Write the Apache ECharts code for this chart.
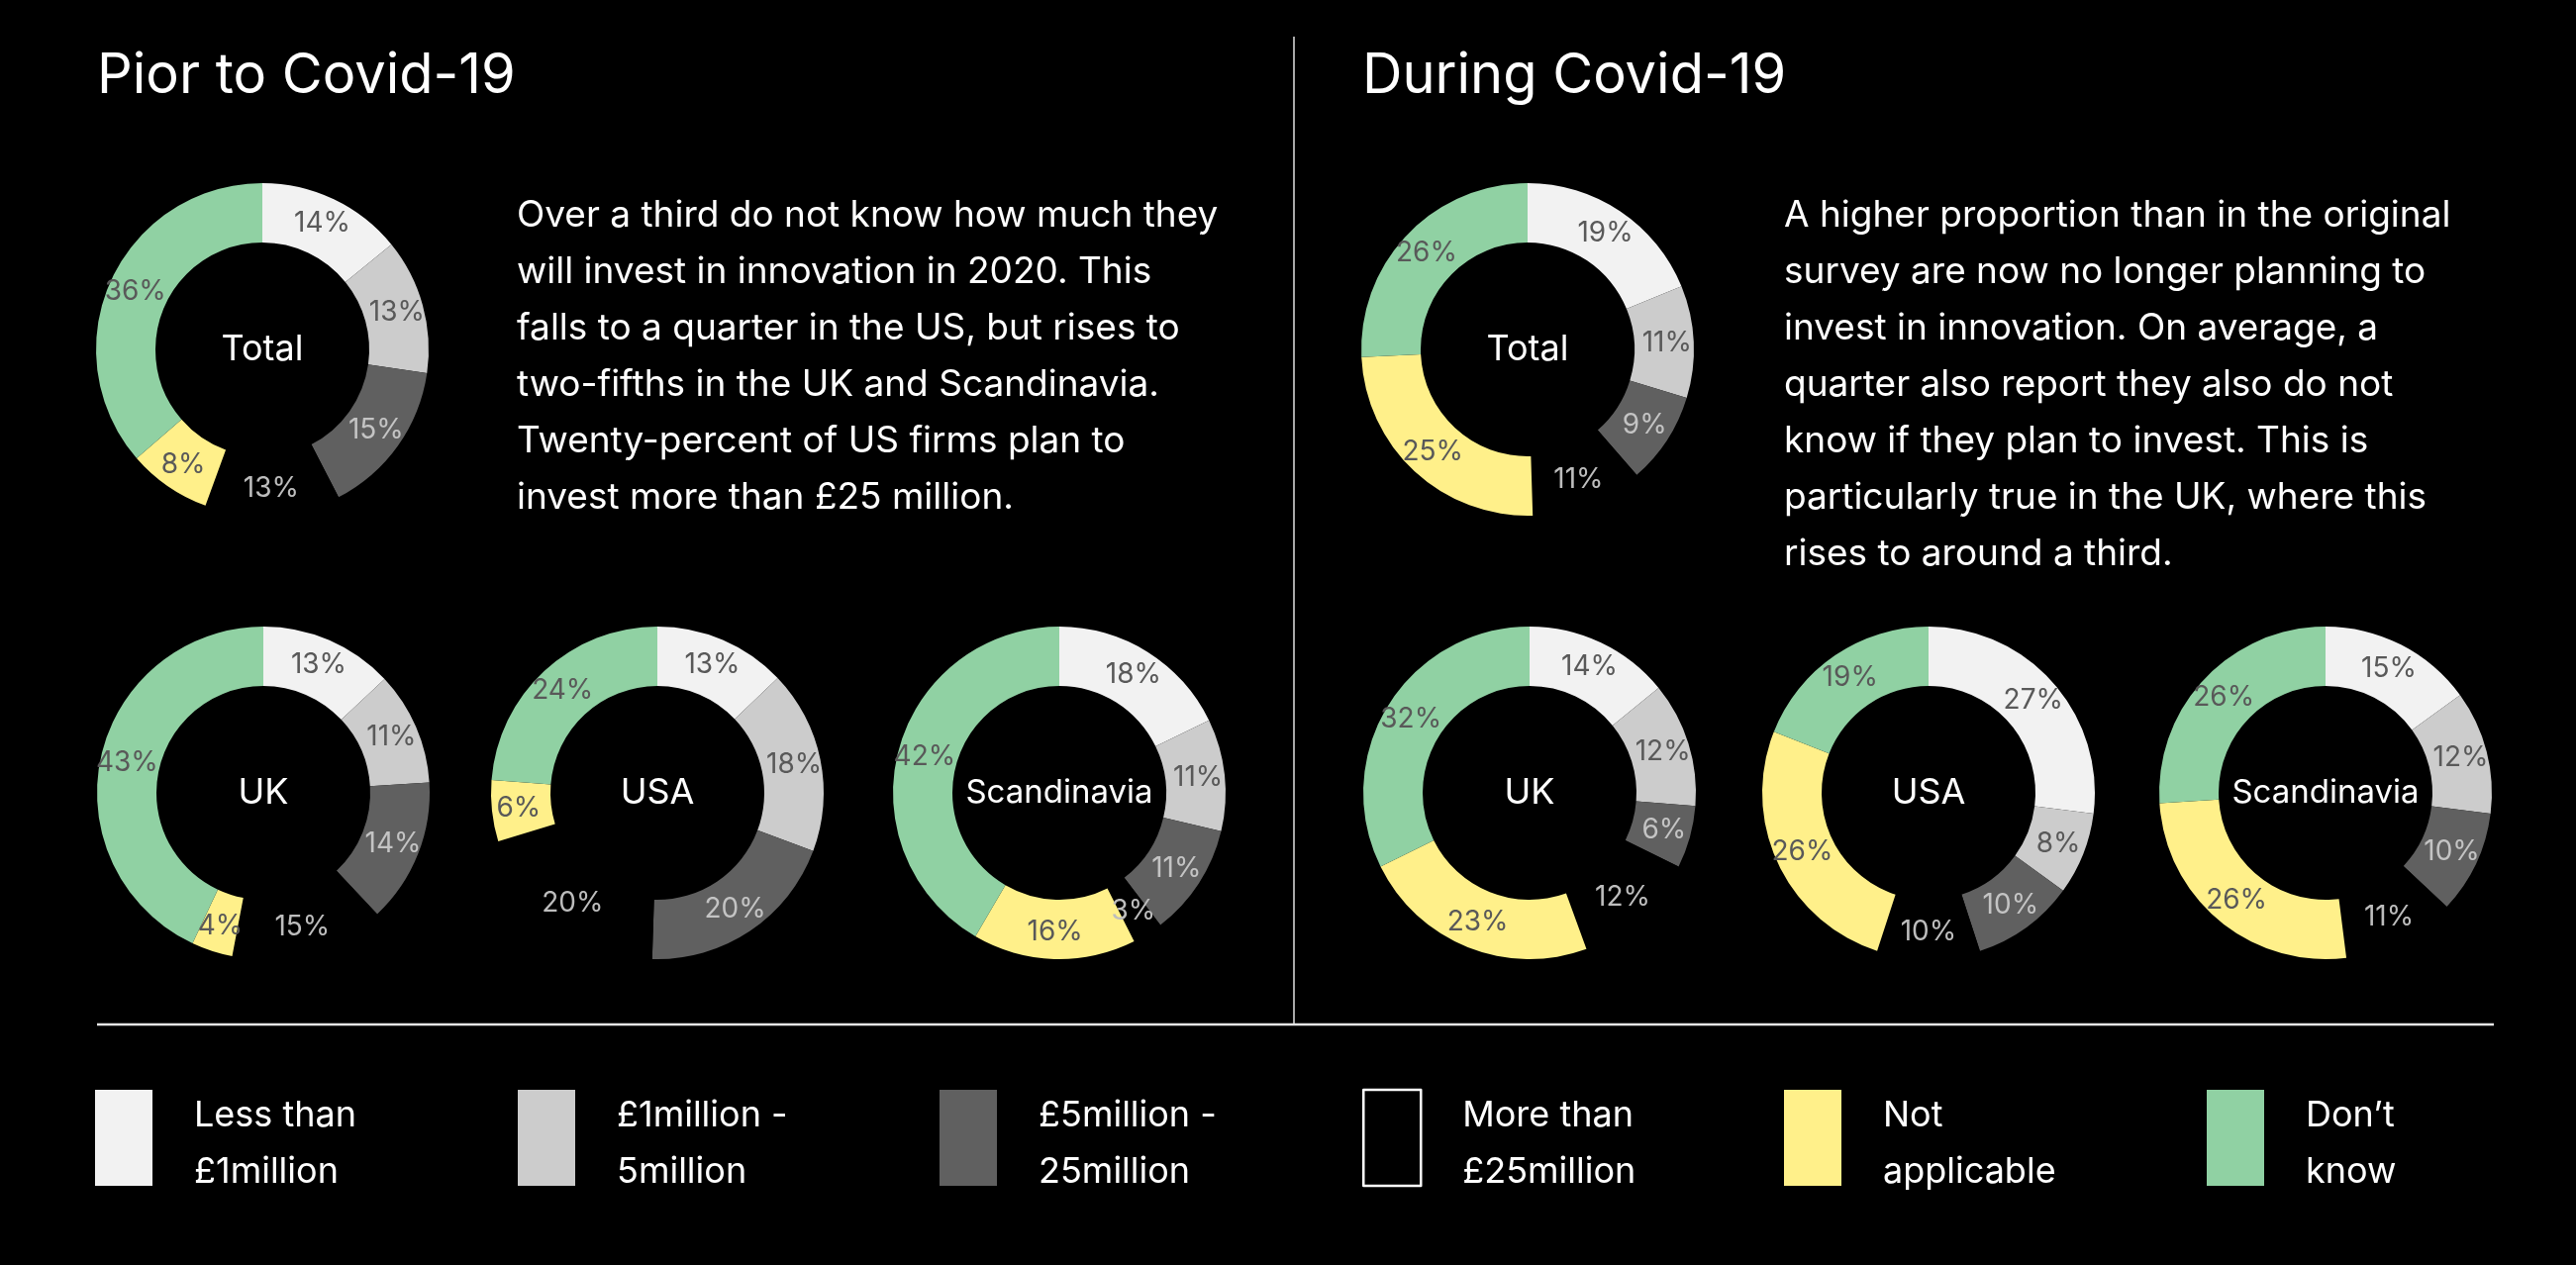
<!DOCTYPE html>
<html>
<head>
<meta charset="utf-8">
<script src="https://cdn.jsdelivr.net/npm/echarts@6/dist/echarts.min.js"></script>
<style>
html,body{margin:0;padding:0;background:#000;}
#c{width:2602px;height:1278px;}
</style>
</head>
<body>
<div id="c"></div>
<script>
// ---- DATA ----
const categories = ['Less than\n£1million', '£1million -\n5million', '£5million -\n25million', 'More than\n£25million', 'Not\napplicable', 'Don’t\nknow'];
const sliceColors = ['#f2f2f2', '#cccccc', '#606060', '#000000', '#fff08a', '#90d1a3'];
const labelColors = ['#595959', '#595959', '#c4c4c4', '#bdbdbd', '#595959', '#595959'];

const priorTotal = [14, 13, 15, 13, 8, 36];
const priorUK = [13, 11, 14, 15, 4, 43];
const priorUSA = [13, 18, 20, 20, 6, 24];
const priorScandinavia = [18, 11, 11, 3, 16, 42];

const duringTotal = [19, 11, 9, 11, 25, 26];
const duringUK = [14, 12, 6, 12, 23, 32];
const duringUSA = [27, 8, 10, 10, 26, 19];
const duringScandinavia = [15, 12, 10, 11, 26, 26];

const panelTitles = ['Pior to Covid-19', 'During Covid-19'];
const regionNames = ['Total', 'UK', 'USA', 'Scandinavia'];
const priorText = 'Over a third do not know how much they\nwill invest in innovation in 2020. This\nfalls to a quarter in the US, but rises to\ntwo-fifths in the UK and Scandinavia.\nTwenty-percent of US firms plan to\ninvest more than £25 million.';
const duringText = 'A higher proportion than in the original\nsurvey are now no longer planning to\ninvest in innovation. On average, a\nquarter also report they also do not\nknow if they plan to invest. This is\nparticularly true in the UK, where this\nrises to around a third.';

// ---- LAYOUT ----
const FONT = 'Inter, "Liberation Sans", Arial, sans-serif';
const R = [108, 168];
const pies = [
  {vals: priorTotal, name: regionNames[0], c: [265, 353], fs: 36},
  {vals: priorUK, name: regionNames[1], c: [266, 801], fs: 36},
  {vals: priorUSA, name: regionNames[2], c: [664, 801], fs: 36},
  {vals: priorScandinavia, name: regionNames[3], c: [1070, 801], fs: 33},
  {vals: duringTotal, name: regionNames[0], c: [1543, 353], fs: 36},
  {vals: duringUK, name: regionNames[1], c: [1545, 801], fs: 36},
  {vals: duringUSA, name: regionNames[2], c: [1948, 801], fs: 36},
  {vals: duringScandinavia, name: regionNames[3], c: [2349, 801], fs: 33}
];

const series = pies.map(p => ({
  type: 'pie',
  silent: true,
  center: p.c,
  radius: R,
  startAngle: 90,
  clockwise: true,
  avoidLabelOverlap: false,
  label: {
    show: true,
    position: 'inside',
    formatter: '{c}%',
    fontFamily: FONT,
    fontSize: 28
  },
  labelLine: {show: false},
  emphasis: {disabled: true},
  itemStyle: {borderWidth: 0},
  data: p.vals.map((v, i) => ({
    name: categories[i],
    value: v,
    itemStyle: {color: sliceColors[i]},
    label: {color: labelColors[i]}
  }))
}));

const graphic = [];
// Panel titles
graphic.push({type: 'text', x: 98, y: 77, style: {text: panelTitles[0], fill: '#fff', font: '56px ' + FONT, verticalAlign: 'middle'}});
graphic.push({type: 'text', x: 1376, y: 77, style: {text: panelTitles[1], fill: '#fff', font: '56px ' + FONT, verticalAlign: 'middle'}});
// Body texts
graphic.push({type: 'text', left: 522, top: 189, style: {text: priorText, fill: '#fff', font: '37px ' + FONT, lineHeight: 57}});
graphic.push({type: 'text', left: 1802, top: 189, style: {text: duringText, fill: '#fff', font: '37px ' + FONT, lineHeight: 57}});
// Center labels
pies.forEach(p => {
  graphic.push({type: 'text', x: p.c[0], y: p.c[1], style: {text: p.name, fill: '#fff', font: p.fs + 'px ' + FONT, align: 'center', verticalAlign: 'middle'}});
});
// Divider lines
graphic.push({type: 'line', shape: {x1: 1307, y1: 37, x2: 1307, y2: 1034}, style: {stroke: '#e0e0e0', lineWidth: 1.5}});
graphic.push({type: 'line', shape: {x1: 98, y1: 1035, x2: 2519, y2: 1035}, style: {stroke: '#e6e6e6', lineWidth: 2.5}});

// Legends: one per category
const legendLeft = [96, 523, 949, 1376, 1802, 2229];
const legend = categories.map((c, i) => ({
  data: [{
    name: c,
    icon: 'rect',
    itemStyle: i === 3 ? {color: '#000', borderColor: '#ffffff', borderWidth: 2.5} : {color: sliceColors[i], borderWidth: 0}
  }],
  left: legendLeft[i],
  top: 1092,
  padding: 0,
  itemWidth: 58,
  itemHeight: 97,
  selectedMode: false,
  formatter: name => '{s| }\n' + name.split('\n').map(l => '{t|' + l + '}').join('\n'),
  textStyle: {
    color: '#fff', fontFamily: FONT, fontSize: 36, padding: [0, 0, 0, 37],
    rich: {
      s: {fontSize: 1, lineHeight: 12},
      t: {color: '#fff', fontFamily: FONT, fontSize: 36, lineHeight: 57}
    }
  }
}));

const chart = echarts.init(document.getElementById('c'), null, {renderer: 'canvas'});
chart.setOption({
  backgroundColor: '#000',
  animation: false,
  legend: legend,
  series: series,
  graphic: graphic
});
</script>
</body>
</html>
